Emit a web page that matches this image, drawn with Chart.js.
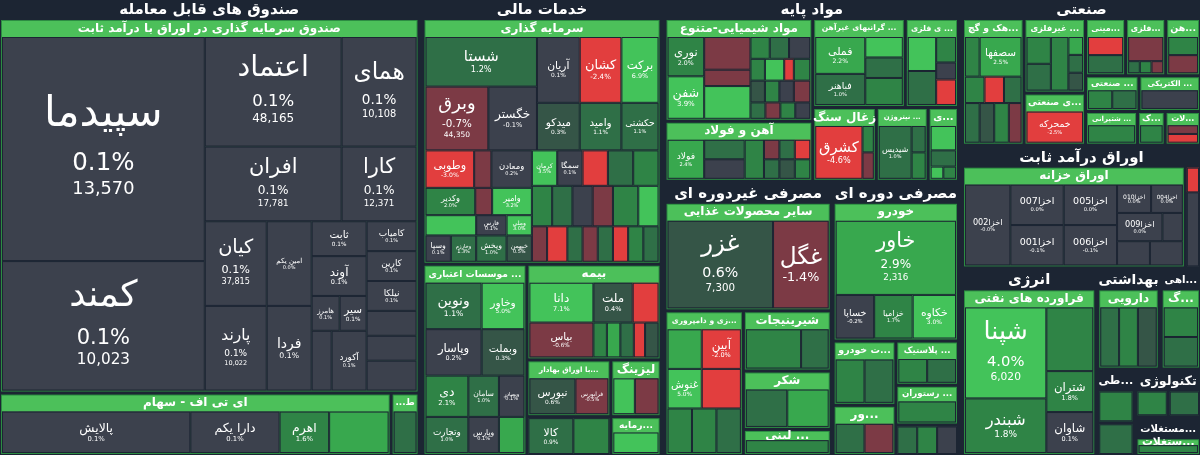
<!DOCTYPE html>
<html>
<head>
<meta charset="utf-8">
<script src="https://cdn.jsdelivr.net/npm/chart.js@4/dist/chart.umd.min.js"></script>
<style>
  html, body { margin: 0; padding: 0; background: #1c2533; }
  canvas { display: block; }
</style>
</head>
<body>
<canvas id="map" width="1200" height="455"></canvas>
<script>
// --- data: each row = [groupId or null for a tile, parentId, label, weight, change %, volume]
// weights are relative sizes among siblings
const fundsRows = [
  ['c1', 'root', 'صندوق های قابل معامله', 415],
  ['s1', 'c1', 'صندوق سرمایه گذاری در اوراق با درآمد ثابت', 375],
  ['s1a', 's1', '', 203],
  [null, 's1a', 'سپیدما', 225, 0.1, '13,570'],
  [null, 's1a', 'کمند', 130, 0.1, '10,023'],
  ['s1b', 's1', '', 212],
  ['s1b1', 's1b', '', 185],
  ['s1b1a', 's1b1', '', 137],
  [null, 's1b1a', 'اعتماد', 110, 0.1, '48,165'],
  [null, 's1b1a', 'افران', 75, 0.1, '17,781'],
  ['s1b1b', 's1b1', '', 75],
  [null, 's1b1b', 'همای', 110, 0.1, '10,108'],
  [null, 's1b1b', 'کارا', 75, 0.1, '12,371'],
  ['s1b2', 's1b', '', 170],
  ['s1b2a', 's1b2', '', 62],
  [null, 's1b2a', 'کیان', 85, 0.1, '37,815'],
  [null, 's1b2a', 'پارند', 85, 0.1, '10,022'],
  ['s1b2b', 's1b2', '', 45],
  [null, 's1b2b', 'امین یکم', 85, 0.0],
  [null, 's1b2b', 'فردا', 85, 0.1],
  ['s1b2c', 's1b2', '', 55],
  [null, 's1b2c', 'ثابت', 35, 0.1],
  [null, 's1b2c', 'آوند', 40, 0.1],
  ['s1b2c3', 's1b2c', '', 35],
  [null, 's1b2c3', 'هامرز', 28, 0.1],
  [null, 's1b2c3', 'سیر', 27, 0.1],
  ['s1b2c4', 's1b2c', '', 60],
  [null, 's1b2c4', '', 20, 0.1],
  [null, 's1b2c4', 'آکورد', 35, 0.1],
  ['s1b2d', 's1b2', '', 50],
  [null, 's1b2d', 'کامیاب', 30, 0.1],
  [null, 's1b2d', 'کارین', 30, 0.1],
  [null, 's1b2d', 'نیلکا', 30, 0.1],
  [null, 's1b2d', '', 25, 0.1],
  [null, 's1b2d', '', 25, 0.1],
  [null, 's1b2d', '', 30, 0.1],
  ['b1', 'c1', '', 60],
  ['etf', 'b1', 'ای تی اف - سهام', 390],
  [null, 'etf', 'پالایش', 190, 0.1],
  [null, 'etf', 'دارا یکم', 90, 0.1],
  [null, 'etf', 'اهرم', 50, 1.6],
  [null, 'etf', '', 60, 2.5],
  ['tt', 'b1', 'ط...', 25],
  [null, 'tt', '', 1, 1.0]
];

const financeRows = [
  ['c2', 'root', 'خدمات مالی', 235],
  ['sg', 'c2', 'سرمایه گذاری', 245],
  ['sgT', 'sg', '', 112],
  ['sgTL', 'sgT', '', 110],
  [null, 'sgTL', 'شستا', 49, 1.2],
  ['sgTL2', 'sgTL', '', 63],
  [null, 'sgTL2', 'وبرق', 62, -0.7, '44,350'],
  [null, 'sgTL2', 'خگستر', 48, -0.1],
  ['sgTR', 'sgT', '', 120],
  ['sgTR1', 'sgTR', '', 65],
  [null, 'sgTR1', 'آریان', 38, 0.1],
  [null, 'sgTR1', 'کشان', 37, -2.4],
  [null, 'sgTR1', 'برکت', 33, 6.9],
  ['sgTR2', 'sgTR', '', 47],
  [null, 'sgTR2', 'میدکو', 38, 0.3],
  [null, 'sgTR2', 'وامید', 37, 1.1],
  [null, 'sgTR2', 'حکشتی', 33, 1.1],
  ['sgB', 'sg', '', 110],
  ['sgBL', 'sgB', '', 105],
  ['sgBL1', 'sgBL', '', 37],
  [null, 'sgBL1', 'وطوبی', 48, -3.0],
  [null, 'sgBL1', '', 17, -0.8],
  [null, 'sgBL1', 'ومعادن', 40, 0.2],
  ['sgBL2', 'sgBL', '', 27],
  [null, 'sgBL2', 'وکدیر', 50, 2.0],
  [null, 'sgBL2', '', 17, -0.8],
  [null, 'sgBL2', 'وامیر', 40, 3.2],
  ['sgBL3', 'sgBL', '', 46],
  ['sgBL3a', 'sgBL3', '', 50],
  [null, 'sgBL3a', '', 20, 3.0],
  ['sgBL3a2', 'sgBL3a', '', 26],
  [null, 'sgBL3a2', 'وسپا', 25, 0.1],
  [null, 'sgBL3a2', 'وخارزم', 25, 1.3],
  ['sgBL3b', 'sgBL3', '', 55],
  ['sgBL3b1', 'sgBL3b', '', 20],
  [null, 'sgBL3b1', 'فارس', 30, 0.1],
  [null, 'sgBL3b1', 'وملی', 25, 3.0],
  ['sgBL3b2', 'sgBL3b', '', 26],
  [null, 'sgBL3b2', 'ویخش', 30, 1.0],
  [null, 'sgBL3b2', 'خبهمن', 25, 0.5],
  ['sgBR', 'sgB', '', 125],
  ['sgBR1', 'sgBR', '', 35],
  [null, 'sgBR1', 'کرمان', 25, 3.5],
  [null, 'sgBR1', 'سمگا', 25, 0.1],
  [null, 'sgBR1', '', 25, -3.0],
  [null, 'sgBR1', '', 25, 1.0],
  [null, 'sgBR1', '', 25, 1.5],
  ['sgBR2', 'sgBR', '', 40],
  [null, 'sgBR2', '', 20, 1.5],
  [null, 'sgBR2', '', 20, 1.0],
  [null, 'sgBR2', '', 20, 0.1],
  [null, 'sgBR2', '', 20, -0.5],
  [null, 'sgBR2', '', 25, 1.5],
  [null, 'sgBR2', '', 20, 3.0],
  ['sgBR3', 'sgBR', '', 35],
  [null, 'sgBR3', '', 15, -0.8],
  [null, 'sgBR3', '', 20, -3.0],
  [null, 'sgBR3', '', 15, 1.0],
  [null, 'sgBR3', '', 15, -0.5],
  [null, 'sgBR3', '', 15, 1.2],
  [null, 'sgBR3', '', 15, -2.0],
  [null, 'sgBR3', '', 15, 1.5],
  [null, 'sgBR3', '', 15, 0.8],
  ['c2b', 'c2', '', 190],
  ['mo', 'c2b', '... موسسات اعتباری', 100],
  ['mo1', 'mo', '', 45],
  [null, 'mo1', 'ونوین', 55, 1.1],
  [null, 'mo1', 'وخاور', 42, 5.0],
  ['mo2', 'mo', '', 45],
  [null, 'mo2', 'وپاسار', 55, 0.2],
  [null, 'mo2', 'وبملت', 42, 0.3],
  ['mo3', 'mo', '', 40],
  [null, 'mo3', 'دی', 42, 2.1],
  [null, 'mo3', 'سامان', 30, 1.0],
  [null, 'mo3', 'وبصادر', 25, 0.1],
  ['mo4', 'mo', '', 35],
  [null, 'mo4', 'وتجارت', 42, 1.0],
  [null, 'mo4', 'وپارس', 30, 0.1],
  [null, 'mo4', '', 25, 2.5],
  ['c2bR', 'c2b', '', 130],
  ['bi', 'c2bR', 'بیمه', 95],
  ['biL', 'bi', '', 57],
  [null, 'biL', 'دانا', 40, 7.1],
  [null, 'biL', 'بپاس', 35, -0.6],
  ['biR', 'bi', '', 58],
  ['biR1', 'biR', '', 40],
  [null, 'biR1', 'ملت', 35, 0.4],
  [null, 'biR1', '', 23, -3.0],
  ['biR2', 'biR', '', 35],
  [null, 'biR2', '', 12, 1.5],
  [null, 'biR2', '', 12, 2.5],
  [null, 'biR2', '', 12, 1.0],
  [null, 'biR2', '', 10, -2.0],
  [null, 'biR2', '', 12, 0.5],
  ['c2bR2', 'c2bR', '', 95],
  ['c2bR2a', 'c2bR2', '', 72],
  ['ob', 'c2bR2a', '...با اوراق بهادار', 57],
  [null, 'ob', 'نبورس', 42, 0.6],
  [null, 'ob', 'فرابورس', 30, -0.5],
  ['ob2', 'c2bR2a', '', 38],
  [null, 'ob2', 'کالا', 40, 0.9],
  [null, 'ob2', '', 32, 2.0],
  ['c2bR2b', 'c2bR2', '', 42],
  ['li', 'c2bR2b', 'لیزینگ', 57],
  [null, 'li', '', 20, 3.0],
  [null, 'li', '', 22, -0.8],
  ['sm', 'c2bR2b', '...رمایه', 38],
  [null, 'sm', '', 1, 3.0]
];

const basicRows = [
  ['c3', 'root', '', 290],
  ['mp', 'c3', 'مواد پایه', 182],
  ['mpL', 'mp', '', 148],
  ['chem', 'mpL', 'مواد شیمیایی-متنوع', 98],
  ['chemA', 'chem', '', 38],
  [null, 'chemA', 'نوری', 37, 2.0],
  [null, 'chemA', 'شفن', 40, 3.9],
  ['chemB', 'chem', '', 48],
  [null, 'chemB', '', 30, -0.8],
  [null, 'chemB', '', 15, -0.6],
  [null, 'chemB', '', 30, 3.5],
  ['chemC', 'chem', '', 62],
  ['chemC1', 'chemC', '', 20],
  [null, 'chemC1', '', 20, 2.0],
  [null, 'chemC1', '', 20, 1.0],
  [null, 'chemC1', '', 22, 0.1],
  ['chemC2', 'chemC', '', 20],
  [null, 'chemC2', '', 15, 1.5],
  [null, 'chemC2', '', 20, 3.0],
  [null, 'chemC2', '', 10, -3.0],
  [null, 'chemC2', '', 17, 2.0],
  ['chemC3', 'chemC', '', 20],
  [null, 'chemC3', '', 15, 0.5],
  [null, 'chemC3', '', 15, 2.0],
  [null, 'chemC3', '', 15, 0.1],
  [null, 'chemC3', '', 17, -0.5],
  ['chemC4', 'chemC', '', 15],
  [null, 'chemC4', '', 15, 1.0],
  [null, 'chemC4', '', 15, -0.6],
  [null, 'chemC4', '', 15, 2.0],
  [null, 'chemC4', '', 15, 0.1],
  ['ahan', 'mpL', 'آهن و فولاد', 56],
  [null, 'ahan', 'فولاد', 38, 2.4],
  ['ahB', 'ahan', '', 42],
  [null, 'ahB', '', 25, 1.2],
  [null, 'ahB', '', 25, 0.1],
  [null, 'ahan', '', 20, 1.5],
  ['ahC', 'ahan', '', 48],
  ['ahC1', 'ahC', '', 25],
  [null, 'ahC1', '', 1, -0.8],
  [null, 'ahC1', '', 1, 1.0],
  [null, 'ahC1', '', 1, -3.0],
  ['ahC2', 'ahC', '', 25],
  [null, 'ahC2', '', 1, 1.0],
  [null, 'ahC2', '', 1, 0.5],
  [null, 'ahC2', '', 1, 2.0],
  ['mpR', 'mp', '', 146],
  ['mpR1', 'mpR', '', 85],
  ['gr', 'mpR1', '... گرانبهای غیرآهن', 91],
  ['grA', 'gr', '', 52],
  [null, 'grA', 'فملی', 45, 2.2],
  [null, 'grA', 'فباهنر', 38, 1.0],
  ['grB', 'gr', '', 39],
  [null, 'grB', '', 25, 3.0],
  [null, 'grB', '', 25, 1.0],
  [null, 'grB', '', 33, 2.0],
  ['fz', 'mpR1', '... ی فلزی', 51],
  ['fzA', 'fz', '', 30],
  [null, 'fzA', '', 40, 3.0],
  [null, 'fzA', '', 40, 1.0],
  ['fzB', 'fz', '', 21],
  [null, 'fzB', '', 30, 1.5],
  [null, 'fzB', '', 20, 0.1],
  [null, 'fzB', '', 30, -2.5],
  ['mpR2', 'mpR', '', 70],
  ['zs', 'mpR2', 'زغال سنگ', 62],
  [null, 'zs', 'کشرق', 50, -4.6],
  ['zsB', 'zs', '', 12],
  [null, 'zsB', '', 1, 1.5],
  [null, 'zsB', '', 1, -0.8],
  ['ni', 'mpR2', '... نیتروژن', 50],
  [null, 'ni', 'شیدیس', 35, 1.0],
  ['niB', 'ni', '', 15],
  [null, 'niB', '', 1, 1.0],
  [null, 'niB', '', 1, 2.0],
  ['mi', 'mpR2', '...ی', 28],
  [null, 'mi', '', 30, 3.0],
  [null, 'mi', '', 20, 1.0],
  ['miB', 'mi', '', 15],
  [null, 'miB', '', 1, 3.0],
  [null, 'miB', '', 1, 2.0],
  ['c3b', 'c3', '', 273],
  ['gd', 'c3b', 'مصرفی غیردوره ای', 170],
  ['ghaza', 'gd', 'سایر محصولات غذایی', 108],
  [null, 'ghaza', 'غزر', 110, 0.6, '7,300'],
  [null, 'ghaza', 'غگل', 58, -1.4],
  ['gdB', 'gd', '', 145],
  ['zd', 'gdB', '...زی و دامپروری', 80],
  ['zd1', 'zd', '', 40],
  [null, 'zd1', '', 35, 2.5],
  [null, 'zd1', 'آبین', 40, -2.0],
  ['zd2', 'zd', '', 40],
  [null, 'zd2', 'غنوش', 35, 5.0],
  [null, 'zd2', '', 40, -2.2],
  ['zd3', 'zd', '', 45],
  [null, 'zd3', '', 1, 1.5],
  [null, 'zd3', '', 1, 2.0],
  [null, 'zd3', '', 1, 1.0],
  ['gdBR', 'gdB', '', 90],
  ['shir', 'gdBR', 'شیرینیجات', 62],
  [null, 'shir', '', 60, 2.0],
  [null, 'shir', '', 30, 1.0],
  ['shek', 'gdBR', 'شکر', 60],
  [null, 'shek', '', 1, 1.2],
  [null, 'shek', '', 1, 2.5],
  ['lab', 'gdBR', '... لبنی', 25],
  [null, 'lab', '', 1, 1.5],
  ['dd', 'c3b', 'مصرفی دوره ای', 128],
  ['kh', 'dd', 'خودرو', 140],
  [null, 'kh', 'خاور', 85, 2.9, '2,316'],
  ['khB', 'kh', '', 50],
  [null, 'khB', 'خساپا', 40, -0.2],
  [null, 'khB', 'خزامیا', 40, 1.7],
  [null, 'khB', 'خکاوه', 45, 3.0],
  ['ddB', 'dd', '', 115],
  ['ddBL', 'ddB', '', 60],
  ['kht', 'ddBL', '...ت خودرو', 65],
  [null, 'kht', '', 30, 1.8],
  [null, 'kht', '', 30, 1.0],
  ['sur', 'ddBL', '...ور', 50],
  [null, 'sur', '', 1, 1.0],
  [null, 'sur', '', 1, -1.5],
  ['ddBR', 'ddB', '', 60],
  ['pla', 'ddBR', '... پلاستیک', 45],
  [null, 'pla', '', 1, 1.5],
  [null, 'pla', '', 1, 1.0],
  ['res', 'ddBR', '... رستوران', 40],
  [null, 'res', '', 1, 2.0],
  ['ddBR3', 'ddBR', '', 30],
  [null, 'ddBR3', '', 1, 1.0],
  [null, 'ddBR3', '', 1, 2.0],
  [null, 'ddBR3', '', 1, 0.1]
];

const industryRows = [
  ['c4', 'root', '', 235],
  ['san', 'c4', 'صنعتی', 145],
  ['sanA', 'san', '...هک و گچ', 58],
  ['sanA1', 'sanA', '', 45],
  [null, 'sanA1', '', 15, 1.5],
  [null, 'sanA1', 'سصفها', 43, 2.5],
  ['sanA2', 'sanA', '', 30],
  [null, 'sanA2', '', 20, 1.5],
  [null, 'sanA2', '', 20, -3.0],
  [null, 'sanA2', '', 18, 1.0],
  ['sanA3', 'sanA', '', 45],
  [null, 'sanA3', '', 15, 1.0],
  [null, 'sanA3', '', 15, 0.5],
  [null, 'sanA3', '', 15, 1.5],
  [null, 'sanA3', '', 13, -0.5],
  ['sanB', 'san', '', 58],
  ['gf', 'sanB', '... غیرفلزی', 70],
  ['gfA', 'gf', '', 25],
  [null, 'gfA', '', 1, 1.5],
  [null, 'gfA', '', 1, 1.0],
  [null, 'gf', '', 18, 2.0],
  ['gfB', 'gf', '', 15],
  [null, 'gfB', '', 1, 2.5],
  [null, 'gfB', '', 1, 1.0],
  [null, 'gfB', '', 1, 0.5],
  ['sana', 'sanB', '...ی صنعتی', 48],
  [null, 'sana', 'خمحرکه', 1, -2.5],
  ['sanC', 'san', '', 111],
  ['sanC1', 'sanC', '', 53],
  ['mad', 'sanC1', '...مینی', 35],
  [null, 'mad', '', 1, -2.5],
  [null, 'mad', '', 1, 1.0],
  ['fl', 'sanC1', '...فلزی', 35],
  [null, 'fl', '', 2, -1.0],
  ['flB', 'fl', '', 1],
  [null, 'flB', '', 1, 1.0],
  [null, 'flB', '', 1, 2.0],
  [null, 'flB', '', 1, -0.8],
  ['ah', 'sanC1', '...هن', 30],
  [null, 'ah', '', 1, 1.5],
  [null, 'ah', '', 1, -0.8],
  ['sanC2', 'sanC', '', 32],
  ['sanj', 'sanC2', '... صنعتی', 50],
  [null, 'sanj', '', 1, 2.0],
  [null, 'sanj', '', 1, 1.0],
  ['brq', 'sanC2', '... الکتریکی', 58],
  [null, 'brq', '', 1, 0.1],
  ['sanC3', 'sanC', '', 30],
  ['kesh', 'sanC3', '... شتیرانی', 50],
  [null, 'kesh', '', 1, 1.5],
  ['sk', 'sanC3', '...ک', 25],
  [null, 'sk', '', 1, 2.0],
  ['lat', 'sanC3', '...لات', 33],
  [null, 'lat', '', 1, -0.8],
  [null, 'lat', '', 1, -3.0],
  ['ovr', 'c4', 'اوراق درآمد ثابت', 120],
  ['khz', 'ovr', 'اوراق خزانه', 217],
  [null, 'khz', 'اخزا002', 40, -0],
  ['khzB', 'khz', '', 47],
  [null, 'khzB', 'اخزا007', 1, 0.0],
  [null, 'khzB', 'اخزا001', 1, -0.1],
  ['khzC', 'khz', '', 47],
  [null, 'khzC', 'اخزا005', 1, 0.0],
  [null, 'khzC', 'اخزا006', 1, -0.1],
  ['khzD', 'khz', '', 58],
  ['khzD1', 'khzD', '', 35],
  [null, 'khzD1', 'اخزا010', 30, 0.0],
  [null, 'khzD1', 'اخزا004', 28, 0.0],
  ['khzD2', 'khzD', '', 35],
  [null, 'khzD2', 'اخزا009', 40, 0.0],
  [null, 'khzD2', '', 18, 0.0],
  ['khzD3', 'khzD', '', 30],
  [null, 'khzD3', '', 1, 0.0],
  [null, 'khzD3', '', 1, 0.0],
  ['ovr2', 'ovr', '', 12],
  [null, 'ovr2', '', 1, -2.5],
  [null, 'ovr2', '', 3, 0.0],
  ['c4b', 'c4', '', 185],
  ['en', 'c4b', 'انرژی', 130],
  ['nf', 'en', 'فراورده های نفتی', 1],
  ['nfA', 'nf', '', 78],
  [null, 'nfA', 'شپنا', 100, 4.0, '6,020'],
  [null, 'nfA', 'شبندر', 60, 1.8],
  ['nfB', 'nf', '', 45],
  [null, 'nfB', '', 70, 2.0],
  [null, 'nfB', 'شتران', 45, 1.8],
  [null, 'nfB', 'شاوان', 45, 0.1],
  ['c4bR', 'c4b', '', 100],
  ['c4bR1', 'c4bR', '', 100],
  ['beh', 'c4bR1', 'بهداشتی', 60],
  ['daru', 'beh', 'دارویی', 1],
  [null, 'daru', '', 1, 1.0],
  [null, 'daru', '', 1, 2.0],
  [null, 'daru', '', 1, 0.5],
  ['gah', 'c4bR1', '...اهی', 38],
  ['gg', 'gah', '...گ', 1],
  [null, 'gg', '', 1, 1.5],
  [null, 'gg', '', 1, 1.0],
  ['c4bR2', 'c4bR', '', 85],
  ['tt2', 'c4bR2', '...طی', 35],
  [null, 'tt2', '', 1, 1.5],
  [null, 'tt2', '', 1, 1.0],
  ['c4bR2b', 'c4bR2', '', 63],
  ['tek', 'c4bR2b', 'تکنولوژی', 50],
  [null, 'tek', '', 1, 2.0],
  [null, 'tek', '', 1, 1.0],
  ['mos', 'c4bR2b', '...مستغلات', 40],
  ['mos1', 'mos', '...ستغلات', 1],
  [null, 'mos1', '', 1, 1.5]
];

// --- layout hints (not data)
const sectorIds = ['c1', 'c2', 'mp', 'gd', 'dd', 'san', 'ovr', 'en', 'beh', 'gah', 'tt2', 'tek', 'mos'];
const vertical = ['c1', 's1a', 's1b', 's1b1a', 's1b1b', 's1b2a', 's1b2b', 's1b2c', 's1b2d', 'tt',
  'c2', 'sg', 'sgTL', 'sgTR', 'sgBL', 'sgBL3a', 'sgBL3b', 'sgBR', 'mo', 'c2bR', 'biL', 'biR', 'c2bR2a', 'c2bR2b', 'sm',
  'c3', 'mpL', 'chemA', 'chemB', 'chemC', 'ahB', 'ahC', 'mpR', 'grA', 'grB', 'fzA', 'fzB', 'zsB', 'niB', 'mi',
  'gd', 'zd', 'gdBR', 'dd', 'kh', 'ddBL', 'ddBR',
  'c4', 'sanA', 'sanB', 'sanC', 'gfA', 'gfB', 'mad', 'fl', 'ah', 'brq', 'kesh', 'sk', 'lat', 'khzB', 'khzC', 'khzD', 'ovr2',
  'en', 'nfA', 'nfB', 'c4bR', 'beh', 'gah', 'gg', 'tt2', 'c4bR2b', 'mos', 'mos1', 'sana'];
const spaced = ['c3', 'c4', 'c3b', 'c4b', 'c2b', 'c4bR', 'c4bR1', 'c4bR2', 'c4bR2b', 'b1', 'c2bR', 'c2bR2',
  'c2bR2a', 'c2bR2b', 'mpR', 'mpR1', 'mpR2', 'mpL', 'gdB', 'gdBR', 'ddB', 'ddBL', 'ddBR', 'sanB', 'sanC',
  'sanC1', 'sanC2', 'sanC3'];

const allRows = [...fundsRows, ...financeRows, ...basicRows, ...industryRows];
const FONT = '"DejaVu Sans", sans-serif';

function tileColor(c) {
  if (c <= -2) return '#e23e3e';
  if (c <= -0.45) return '#7c3a45';
  if (c < 0.25) return '#3c414d';
  if (c < 0.75) return '#355547';
  if (c < 1.45) return '#2f6f47';
  if (c < 2.2) return '#2f8446';
  if (c < 3) return '#38a84e';
  return '#43c35a';
}

function fmtChange(c) {
  if (Object.is(c, -0)) return '-0.0%';
  return c.toFixed(1) + '%';
}

const treemapPlugin = {
  id: 'treemap',
  afterDraw(chart) {
    const ctx = chart.ctx;
    const sx = chart.scales.x, sy = chart.scales.y;
    const px = v => sx.getPixelForValue(v);
    const py = v => sy.getPixelForValue(v);

    function text(str, cx, cy, size, bold, rtl) {
      ctx.font = (bold ? 'bold ' : '') + size + 'px ' + FONT;
      ctx.direction = rtl ? 'rtl' : 'ltr';
      ctx.textAlign = 'center';
      ctx.textBaseline = 'middle';
      ctx.fillText(str, cx, cy);
    }

    function drawTile(row, x, y, w, h) {
      const x0 = px(x), y0 = py(y), x1 = px(x + w), y1 = py(y + h);
      const W = x1 - x0, H = y1 - y0;
      ctx.fillStyle = tileColor(row[4]);
      ctx.fillRect(x0, y0, W, H);
      ctx.strokeStyle = '#1c2533';
      ctx.lineWidth = 1;
      ctx.strokeRect(x0 + 0.5, y0 + 0.5, W - 1, H - 1);
      const name = row[2];
      if (!name) return;
      const hasVol = row[5] && H > 60;
      let fs = Math.min(H * (hasVol ? 0.28 : 0.3), W * 1.25 / Math.max(name.length, 2), 48);
      if (fs < 5) return;
      ctx.fillStyle = '#ffffff';
      const cx = x0 + W / 2, cy = y0 + H / 2;
      if (hasVol) {
        text(name, cx, cy - fs * 0.8, fs, false, true);
        text(fmtChange(row[4]), cx, cy + fs * 0.35, fs * 0.58, false, false);
        text(row[5], cx, cy + fs * 0.95, fs * 0.42, false, false);
      } else if (H > fs * 1.8) {
        text(name, cx, cy - fs * 0.3, fs, false, true);
        text(fmtChange(row[4]), cx, cy + fs * 0.55, Math.max(fs * 0.55, 5), false, false);
      } else {
        text(name, cx, cy, fs, false, true);
      }
    }

    function layout(id, x, y, w, h) {
      const row = allRows.find(r => r[0] === id);
      const label = row ? row[2] : '';
      if (sectorIds.includes(id)) {
        ctx.fillStyle = '#ffffff';
        const fs = Math.min(15, w * 1.6 / Math.max(label.length, 3));
        text(label, px(x + w / 2), py(y + 10), fs, true, true);
        y += 20; h -= 20;
        x += 1; w -= 2; h -= 1;
      } else if (label) {
        // sub-industry with a green header bar
        const hh = Math.min(17, h * 0.4);
        ctx.fillStyle = '#2c8c42';
        ctx.fillRect(px(x), py(y), px(x + w) - px(x), py(y + h) - py(y));
        ctx.fillStyle = '#4cc05a';
        ctx.fillRect(px(x) + 1, py(y) + 1, px(x + w) - px(x) - 2, hh - 1);
        ctx.beginPath();
        ctx.moveTo(px(x) + 6, py(y + hh));
        ctx.lineTo(px(x) + 18, py(y + hh));
        ctx.lineTo(px(x) + 12, py(y + hh) + 6);
        ctx.fill();
        ctx.fillStyle = '#ffffff';
        const fs = Math.min(12, (w - 4) * 1.7 / Math.max(label.length, 3));
        text(label, px(x + w / 2), py(y + hh / 2), fs, true, true);
        y += hh; h -= hh;
        x += 1; w -= 2; h -= 1;
      }
      const kids = allRows.filter(r => r[1] === id);
      const total = kids.reduce((s, r) => s + r[3], 0);
      const dirV = vertical.includes(id);
      const gap = id === 'root' ? 5 : (sectorIds.includes(id) || spaced.includes(id) ? 3 : 0);
      const span = (dirV ? h : w) - gap * (kids.length - 1);
      let pos = dirV ? y : x;
      kids.forEach(k => {
        const size = span * k[3] / total;
        const r = dirV ? [x, pos, w, size] : [pos, y, size, h];
        if (k[0] === null) drawTile(k, ...r);
        else layout(k[0], ...r);
        pos += size + gap;
      });
    }

    ctx.save();
    layout('root', 0, 0, 1200, 455);
    ctx.restore();
  }
};

new Chart(document.getElementById('map'), {
  type: 'scatter',
  data: { datasets: [{ data: [] }] },
  options: {
    responsive: false,
    devicePixelRatio: 1,
    animation: false,
    layout: { padding: 0 },
    plugins: { legend: { display: false }, tooltip: { enabled: false } },
    scales: {
      x: { type: 'linear', min: 0, max: 1200, display: false },
      y: { type: 'linear', min: 0, max: 455, reverse: true, display: false }
    }
  },
  plugins: [treemapPlugin]
});
</script>
</body>
</html>
